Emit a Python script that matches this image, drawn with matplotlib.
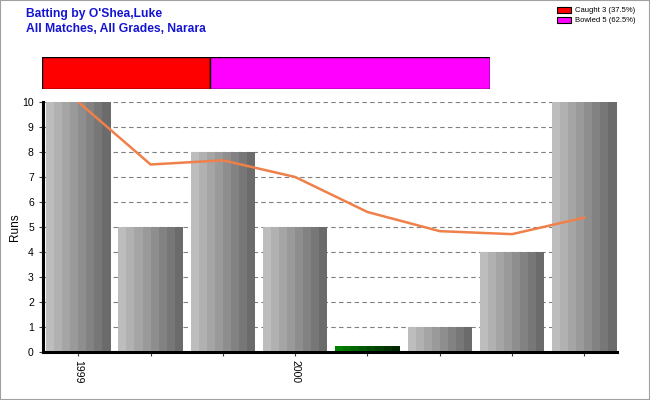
import matplotlib
matplotlib.use("Agg")
import matplotlib.pyplot as plt
import numpy as np
from matplotlib.patches import Rectangle

plt.rcParams['font.family'] = ['Liberation Sans', 'DejaVu Sans']

runs = [10, 5, 8, 5, 0, 1, 4, 10]
duck = [False, False, False, False, True, False, False, False]
tick_labels = ['1999', '', '', '2000', '', '', '', '']
dismissals = ['Caught', 'Bowled']
dismissal_counts = [3, 5]
dismissal_colors = ['#FF0000', '#FF00FF']

fig = plt.figure(figsize=(6.5, 4.0), dpi=100)
fig.patches.append(Rectangle((0, 0), 1, 1, transform=fig.transFigure,
                             fill=False, edgecolor='#A0A0A0', linewidth=1.5))

fig.text(0.04, 0.965, "Batting by O'Shea,Luke", color='#1414D2', fontsize=8.7,
         fontweight='bold', va='center')
fig.text(0.04, 0.928, "All Matches, All Grades, Narara", color='#1414D2', fontsize=8.7,
         fontweight='bold', va='center')

# Main axes
ax = fig.add_axes([0.066, 0.12, 0.883, 0.625])
n = len(runs)
x = np.arange(n)
bw = 0.89
nstripes = 8
grays = np.linspace(0.74, 0.42, nstripes)
sw = bw / nstripes
base = 0.04
for i, (v, d) in enumerate(zip(runs, duck)):
    if d:
        gcols = np.linspace(0.0, 1.0, nstripes)
        for k in range(nstripes):
            c = (0.0, 0.5 - 0.35 * gcols[k], 0.0)
            ax.bar(i - bw / 2 + (k + 0.5) * sw, 0.22, bottom=base, width=sw * 1.01,
                   color=c, linewidth=0, zorder=3)
    else:
        for k in range(nstripes):
            g = grays[k]
            ax.bar(i - bw / 2 + (k + 0.5) * sw, v - base, bottom=base, width=sw * 1.01,
                   color=(g, g, g), linewidth=0, zorder=3)

cum_avg = np.cumsum(runs) / np.arange(1, n + 1)
ax.plot(x, cum_avg, color='#F0804A', linewidth=1.8, zorder=4)

ax.set_xlim(-0.49, 7.45)
ax.set_ylim(0, 10)
ax.set_yticks(range(0, 11))
ax.yaxis.grid(True, linestyle=(0, (4, 3)), color='#808080', linewidth=0.8, zorder=0)
ax.set_axisbelow(True)
ax.set_xticks(x)
ax.set_xticklabels(tick_labels, rotation=-90, fontsize=7)
ax.tick_params(axis='both', labelsize=7.5, length=3, width=0.8, color='#404040')
ax.tick_params(axis='x', pad=3)
ax.set_ylabel('Runs', fontsize=8.5)
ax.yaxis.set_label_coords(-0.038, 0.5)
for s in ['top', 'right']:
    ax.spines[s].set_visible(False)
ax.spines['left'].set_linewidth(2.2)
ax.spines['bottom'].set_linewidth(2.2)

# Dismissal stacked bar
bx = fig.add_axes([0.0646, 0.7775, 0.689, 0.08])
total = sum(dismissal_counts)
left = 0
for cnt, col in zip(dismissal_counts, dismissal_colors):
    bx.barh(0, cnt / total, left=left, height=1, color=col, edgecolor='black',
            linewidth=1)
    left += cnt / total
bx.set_xlim(0, 1)
bx.set_ylim(-0.5, 0.5)
bx.axis('off')

# Legend
for j, (name, cnt, col) in enumerate(zip(dismissals, dismissal_counts, dismissal_colors)):
    yy = 0.975 - j * 0.025
    fig.patches.append(Rectangle((0.857, yy - 0.008), 0.022, 0.016,
                                 transform=fig.transFigure, facecolor=col,
                                 edgecolor='black', linewidth=0.8))
    fig.text(0.885, yy, f"{name} {cnt} ({cnt / total * 100:.1f}%)", fontsize=5.5,
             va='center')

fig.savefig('out.png', dpi=100)
